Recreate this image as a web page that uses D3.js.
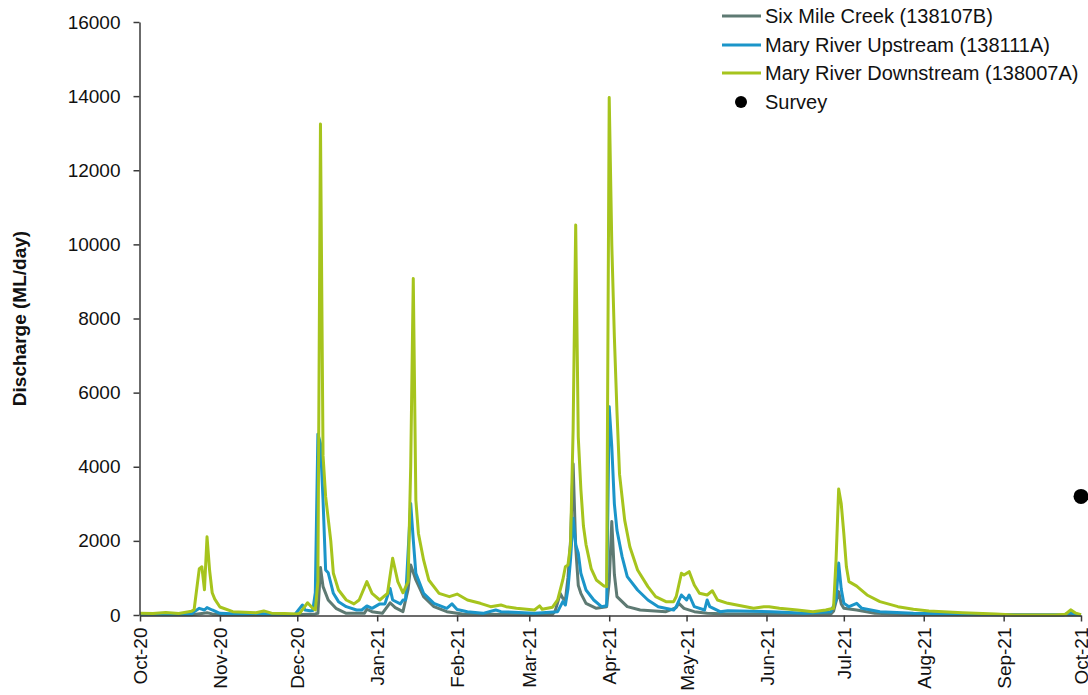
<!DOCTYPE html>
<html>
<head>
<meta charset="utf-8">
<script src="https://cdn.jsdelivr.net/npm/d3@7/dist/d3.min.js"></script>
<style>
  html, body { margin: 0; padding: 0; background: #fff; }
  svg { display: block; font-family: "Liberation Sans", Arial, sans-serif; }
</style>
</head>
<body>
<svg id="chart" width="1088" height="695"></svg>
<script>
// ---- Data ----
const seriesNames = ["Six Mile Creek (138107B)", "Mary River Upstream (138111A)", "Mary River Downstream (138007A)"];
const seriesColors = ["#5e7a73", "#1b95c9", "#a6c41d"];

const sixMileCreek = [
  ["2020-10-01",5],["2020-10-21",5],["2020-10-25",40],["2020-10-27",60],["2020-10-29",30],["2020-11-01",10],
  ["2020-11-30",5],["2020-12-08",30],["2020-12-09",45],["2020-12-10",1280],["2020-12-11",765],["2020-12-13",405],
  ["2020-12-16",180],["2020-12-20",45],["2020-12-27",45],["2020-12-28",155],["2020-12-30",90],["2021-01-03",45],
  ["2021-01-06",330],["2021-01-08",200],["2021-01-11",90],["2021-01-12",400],["2021-01-13",700],["2021-01-14",1350],
  ["2021-01-16",945],["2021-01-19",495],["2021-01-23",225],["2021-01-28",90],["2021-02-03",25],["2021-02-28",10],
  ["2021-03-10",20],["2021-03-11",100],["2021-03-13",580],["2021-03-14",450],["2021-03-15",400],["2021-03-16",1000],
  ["2021-03-17",2000],["2021-03-18",4080],["2021-03-19",1840],["2021-03-20",800],["2021-03-21",585],["2021-03-23",315],
  ["2021-03-27",180],["2021-03-31",225],["2021-04-01",900],["2021-04-02",2520],["2021-04-03",1100],["2021-04-04",495],
  ["2021-04-08",225],["2021-04-13",135],["2021-04-23",90],["2021-04-27",200],["2021-04-28",315],["2021-04-30",180],
  ["2021-05-04",90],["2021-05-09",45],["2021-05-17",25],["2021-06-26",25],["2021-06-27",100],["2021-06-29",630],
  ["2021-06-30",300],["2021-07-01",180],["2021-07-06",135],["2021-07-13",45],["2021-07-28",15],["2021-08-27",5],
  ["2021-10-01",0]
];

const maryUpstream = [
  ["2020-10-01",20],["2020-10-11",20],["2020-10-21",20],["2020-10-22",90],["2020-10-24",180],["2020-10-26",135],
  ["2020-10-27",200],["2020-10-29",135],["2020-11-01",45],["2020-11-10",20],["2020-11-16",50],["2020-11-20",20],
  ["2020-11-30",10],["2020-12-03",270],["2020-12-04",135],["2020-12-06",115],["2020-12-07",120],["2020-12-08",600],
  ["2020-12-09",4880],["2020-12-10",4630],["2020-12-11",3100],["2020-12-12",1215],["2020-12-13",1140],["2020-12-15",585],
  ["2020-12-17",360],["2020-12-20",225],["2020-12-24",135],["2020-12-26",135],["2020-12-28",245],["2020-12-30",180],
  ["2021-01-02",300],["2021-01-04",300],["2021-01-06",720],["2021-01-07",405],["2021-01-10",300],["2021-01-11",405],
  ["2021-01-12",405],["2021-01-14",3010],["2021-01-15",2025],["2021-01-16",1125],["2021-01-19",585],["2021-01-23",315],
  ["2021-01-28",180],["2021-01-30",300],["2021-02-01",150],["2021-02-05",90],["2021-02-11",45],["2021-02-16",135],
  ["2021-02-18",90],["2021-03-03",45],["2021-03-12",90],["2021-03-14",360],["2021-03-15",270],["2021-03-16",700],
  ["2021-03-17",1500],["2021-03-18",2610],["2021-03-19",1900],["2021-03-20",1665],["2021-03-21",1125],["2021-03-23",675],
  ["2021-03-26",405],["2021-03-29",225],["2021-03-31",250],["2021-04-01",5620],["2021-04-02",4540],["2021-04-03",3000],
  ["2021-04-04",2290],["2021-04-06",1575],["2021-04-08",1035],["2021-04-12",675],["2021-04-16",405],["2021-04-20",225],
  ["2021-04-26",135],["2021-04-27",225],["2021-04-29",540],["2021-05-01",405],["2021-05-02",540],["2021-05-04",225],
  ["2021-05-08",135],["2021-05-09",405],["2021-05-10",225],["2021-05-14",90],["2021-05-17",115],["2021-06-03",90],
  ["2021-06-16",45],["2021-06-26",90],["2021-06-28",400],["2021-06-29",1400],["2021-06-30",700],["2021-07-01",315],
  ["2021-07-03",225],["2021-07-06",315],["2021-07-08",180],["2021-07-15",90],["2021-07-28",45],["2021-08-22",20],
  ["2021-09-05",0],["2021-09-24",0],["2021-09-27",60],["2021-09-29",20],["2021-10-01",0]
];

const maryDownstream = [
  ["2020-10-01",50],["2020-10-06",40],["2020-10-11",70],["2020-10-16",40],["2020-10-21",100],["2020-10-22",150],
  ["2020-10-23",700],["2020-10-24",1250],["2020-10-25",1300],["2020-10-26",680],["2020-10-27",2110],["2020-10-28",1200],
  ["2020-10-29",600],["2020-10-30",430],["2020-11-01",215],["2020-11-06",90],["2020-11-15",60],["2020-11-18",110],["2020-11-21",50],
  ["2020-11-26",40],["2020-12-01",30],["2020-12-02",50],["2020-12-05",330],["2020-12-07",180],["2020-12-08",135],
  ["2020-12-09",900],["2020-12-10",13250],["2020-12-11",4300],["2020-12-12",3200],["2020-12-14",2000],["2020-12-15",1125],
  ["2020-12-17",675],["2020-12-20",405],["2020-12-23",300],["2020-12-25",405],["2020-12-28",900],["2020-12-30",585],
  ["2021-01-02",405],["2021-01-05",585],["2021-01-07",1530],["2021-01-09",900],["2021-01-11",600],["2021-01-13",900],
  ["2021-01-14",4000],["2021-01-15",9080],["2021-01-16",3100],["2021-01-17",2200],["2021-01-19",1485],["2021-01-21",945],
  ["2021-01-25",585],["2021-01-29",495],["2021-02-01",565],["2021-02-05",405],["2021-02-10",315],["2021-02-14",225],
  ["2021-02-18",270],["2021-02-20",225],["2021-02-24",180],["2021-03-03",135],["2021-03-05",245],["2021-03-06",155],
  ["2021-03-10",210],["2021-03-12",405],["2021-03-14",945],["2021-03-15",1300],["2021-03-16",1350],["2021-03-17",1900],
  ["2021-03-18",5000],["2021-03-19",10520],["2021-03-20",4800],["2021-03-21",3400],["2021-03-22",2400],["2021-03-23",1900],
  ["2021-03-25",1250],["2021-03-27",945],["2021-03-30",780],["2021-03-31",765],["2021-04-01",13960],["2021-04-02",10000],
  ["2021-04-03",7500],["2021-04-04",5500],["2021-04-05",3800],["2021-04-07",2560],["2021-04-09",1840],["2021-04-12",1215],
  ["2021-04-16",765],["2021-04-19",495],["2021-04-23",360],["2021-04-26",360],["2021-04-27",500],["2021-04-29",1125],
  ["2021-04-30",1080],["2021-05-02",1170],["2021-05-04",810],["2021-05-06",585],["2021-05-09",540],["2021-05-11",655],
  ["2021-05-13",405],["2021-05-17",315],["2021-05-22",250],["2021-05-27",180],["2021-05-31",225],["2021-06-02",225],
  ["2021-06-06",180],["2021-06-13",135],["2021-06-19",90],["2021-06-24",135],["2021-06-27",180],["2021-06-28",1500],
  ["2021-06-29",3400],["2021-06-30",3000],["2021-07-01",2200],["2021-07-02",1300],["2021-07-03",900],["2021-07-06",780],
  ["2021-07-07",720],["2021-07-10",540],["2021-07-15",360],["2021-07-22",225],["2021-07-28",155],["2021-08-03",110],
  ["2021-08-16",60],["2021-08-29",25],["2021-09-05",0],["2021-09-21",0],["2021-09-25",20],["2021-09-27",140],
  ["2021-09-29",50],["2021-10-01",10]
];

const surveyPoints = [["2021-10-01",3200]];
const yTicks = [0,2000,4000,6000,8000,10000,12000,14000,16000];
const xDomain = ["2020-10-01","2021-10-01"];
const yAxisTitle = "Discharge (ML/day)";
const surveyLabel = "Survey";

// ---- Drawing ----
const parse = d3.timeParse("%Y-%m-%d");
const svg = d3.select("#chart");
const plotLeft = 140, plotRight = 1081, plotTop = 22, plotBottom = 615;

const x = d3.scaleTime().domain(xDomain.map(parse)).range([plotLeft, plotRight]);
const y = d3.scaleLinear().domain([0, 16000]).range([plotBottom, plotTop]);

const seriesData = [sixMileCreek, maryUpstream, maryDownstream].map(arr =>
  arr.map(([d, v]) => ({ date: parse(d), value: v })));

const line = d3.line().x(d => x(d.date)).y(d => y(d.value));

svg.append("g").selectAll("path")
  .data(seriesData)
  .join("path")
  .attr("d", line)
  .attr("fill", "none")
  .attr("stroke", (d, i) => seriesColors[i])
  .attr("stroke-width", 3)
  .attr("stroke-linejoin", "round");

// Survey points
svg.append("g").selectAll("circle")
  .data(surveyPoints.map(([d, v]) => ({ date: parse(d), value: v })))
  .join("circle")
  .attr("cx", d => x(d.date))
  .attr("cy", d => y(d.value))
  .attr("r", 7.5)
  .attr("fill", "#000");

// Axes
const axisColor = "#3a3a3a";
const yAxis = svg.append("g")
  .attr("transform", `translate(${plotLeft - 0.5},0)`)
  .call(d3.axisLeft(y).tickValues(yTicks).tickFormat(d3.format("d")).tickSize(6).tickSizeOuter(0).tickPadding(13));
yAxis.selectAll("text").attr("font-size", 19).attr("fill", "#111").attr("font-family", "Liberation Sans, Arial, sans-serif");
yAxis.selectAll("line, path").attr("stroke", axisColor).attr("stroke-width", 1.5);

const xAxis = svg.append("g")
  .attr("transform", `translate(0,${plotBottom + 0.5})`)
  .call(d3.axisBottom(x).ticks(d3.timeMonth.every(1)).tickFormat(d3.timeFormat("%b-%y")).tickSize(6).tickSizeOuter(0));
xAxis.selectAll("line, path").attr("stroke", axisColor).attr("stroke-width", 1.5);
xAxis.selectAll("text")
  .attr("font-size", 19).attr("fill", "#111").attr("font-family", "Liberation Sans, Arial, sans-serif")
  .attr("transform", "rotate(-90)")
  .attr("text-anchor", "end")
  .attr("x", -12).attr("y", 0).attr("dy", "0.35em");

// Y axis title
svg.append("text")
  .attr("transform", `translate(26,${(plotTop + plotBottom) / 2}) rotate(-90)`)
  .attr("text-anchor", "middle")
  .attr("font-size", 19).attr("font-weight", "bold").attr("fill", "#111")
  .text(yAxisTitle);

// Legend
const legend = svg.append("g");
const rowY = [16, 45, 73, 102];
seriesNames.forEach((name, i) => {
  legend.append("line")
    .attr("x1", 722).attr("x2", 761).attr("y1", rowY[i]).attr("y2", rowY[i])
    .attr("stroke", seriesColors[i]).attr("stroke-width", 3);
  legend.append("text")
    .attr("x", 765).attr("y", rowY[i]).attr("dy", "0.35em")
    .attr("font-size", 20).attr("fill", "#111").text(name);
});
legend.append("circle").attr("cx", 741).attr("cy", rowY[3]).attr("r", 6).attr("fill", "#000");
legend.append("text").attr("x", 765).attr("y", rowY[3]).attr("dy", "0.35em")
  .attr("font-size", 20).attr("fill", "#111").text(surveyLabel);
</script>
</body>
</html>
